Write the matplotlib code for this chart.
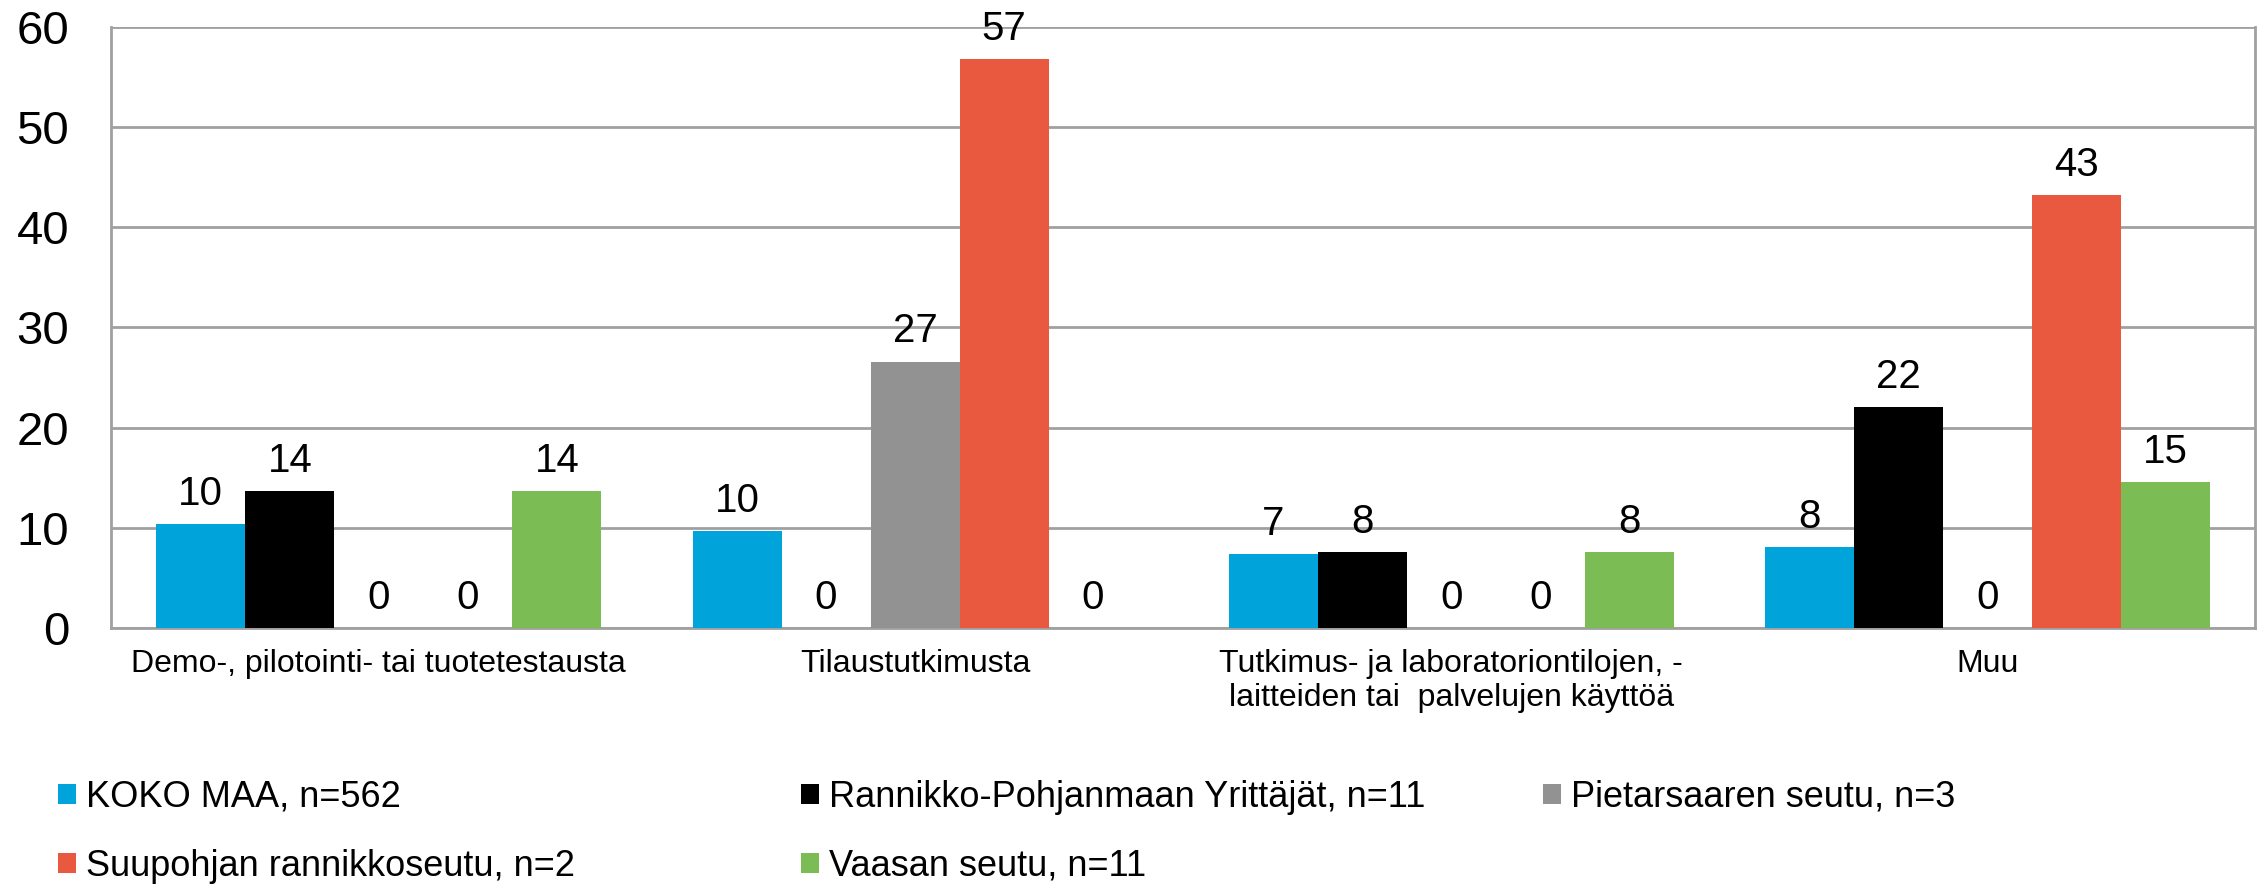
import matplotlib.pyplot as plt
import numpy as np

plt.rcParams["font.family"] = ["Liberation Sans", "DejaVu Sans"]

categories = [
    "Demo-, pilotointi- tai tuotetestausta",
    "Tilaustutkimusta",
    "Tutkimus- ja laboratoriontilojen, -\nlaitteiden tai  palvelujen käyttöä",
    "Muu",
]
series_names = [
    "KOKO MAA, n=562",
    "Rannikko-Pohjanmaan Yrittäjät, n=11",
    "Pietarsaaren seutu, n=3",
    "Suupohjan rannikkoseutu, n=2",
    "Vaasan seutu, n=11",
]
koko_maa = [10.4, 9.7, 7.4, 8.1]
rannikko = [13.7, 0, 7.6, 22.1]
pietarsaari = [0, 26.6, 0, 0]
suupohja = [0, 56.8, 0, 43.2]
vaasa = [13.7, 0, 7.6, 14.6]
series = [koko_maa, rannikko, pietarsaari, suupohja, vaasa]
colors = ["#00A3DA", "#000000", "#929292", "#E85940", "#7BBC55"]

fig = plt.figure(figsize=(22.6, 8.88), dpi=100)
ax = fig.add_axes([0.049, 0.2928, 0.949, 0.6768])

x = np.arange(len(categories))
width = 0.166
bars = []
for i, (vals, col) in enumerate(zip(series, colors)):
    pos = x + (i - 2) * width
    b = ax.bar(pos, vals, width, color=col, label=series_names[i], zorder=3)
    bars.append(b)
    for p, v in zip(pos, vals):
        ax.annotate(f"{v:.0f}", (p, v), xytext=(0, 8), textcoords="offset points",
                    ha="center", va="bottom", fontsize=29)

ax.set_xlim(-0.5, len(categories) - 0.5)
ax.set_ylim(0, 60)
ax.set_yticks(range(0, 61, 10))
ax.set_xticks(x)
ax.set_xticklabels(categories, fontsize=23)
ax.tick_params(axis="x", length=0, pad=15)
ax.tick_params(axis="y", length=0, pad=30, labelsize=34)
ax.grid(axis="y", color="#A0A0A0", linewidth=2, zorder=0)
for side in ["left", "right", "bottom"]:
    ax.spines[side].set_color("#A0A0A0")
    ax.spines[side].set_linewidth(2)
ax.spines["top"].set_visible(False)

# legend laid out in three fixed columns like the original
columns = [[0, 3], [1, 4], [2]]
col_x = [0.0257, 0.3544, 0.6827]
for cx, idx in zip(col_x, columns):
    fig.legend([bars[i] for i in idx], [series_names[i] for i in idx],
               loc="upper left", bbox_to_anchor=(cx, 0.122), frameon=False,
               fontsize=26, handlelength=0.5, handleheight=0.5,
               handletextpad=0.28, labelspacing=0.95, borderaxespad=0,
               borderpad=0)

fig.savefig("out.png", dpi=100)
